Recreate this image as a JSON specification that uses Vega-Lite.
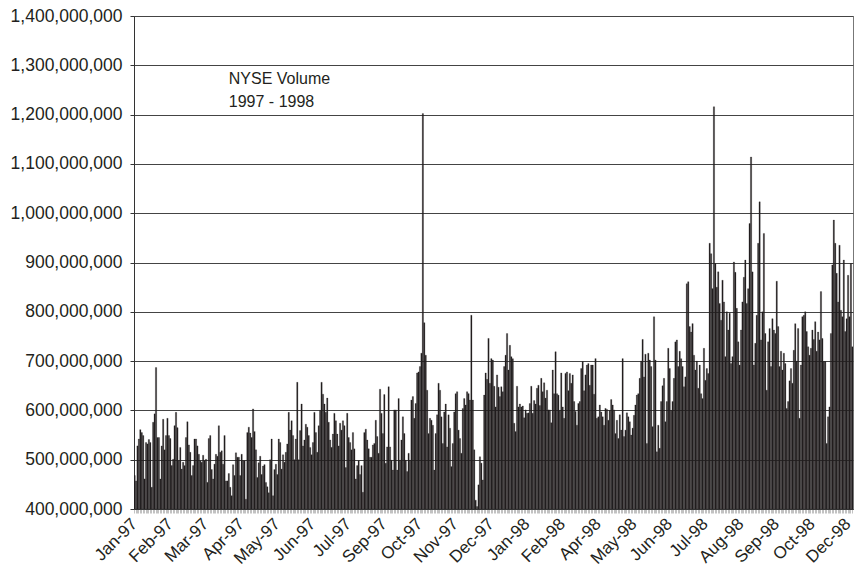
{
  "$schema": "https://vega.github.io/schema/vega-lite/v6.json",
  "autosize": "none",
  "width": 719,
  "height": 493,
  "padding": {"left": 134, "top": 16, "right": 6, "bottom": 62},
  "background": "white",
  "config": {
    "font": "Liberation Sans",
    "view": {"stroke": "#777", "strokeWidth": 1},
    "axis": {"labelFont": "Liberation Sans", "labelColor": "#231f20"}
  },
  "data": {"values": [
{"day":0,"volume":468},{"day":1,"volume":457},{"day":2,"volume":528},{"day":3,"volume":542},{"day":4,"volume":561},{"day":5,"volume":555},{"day":6,"volume":549},{"day":7,"volume":461},{"day":8,"volume":535},{"day":9,"volume":532},
{"day":10,"volume":541},{"day":11,"volume":535},{"day":12,"volume":444},{"day":13,"volume":576},{"day":14,"volume":593},{"day":15,"volume":687},{"day":16,"volume":545},{"day":17,"volume":545},{"day":18,"volume":461},{"day":19,"volume":528},
{"day":20,"volume":582},{"day":21,"volume":520},{"day":22,"volume":549},{"day":23,"volume":584},{"day":24,"volume":549},{"day":25,"volume":543},{"day":26,"volume":488},{"day":27,"volume":501},{"day":28,"volume":569},{"day":29,"volume":596},
{"day":30,"volume":565},{"day":31,"volume":498},{"day":32,"volume":525},{"day":33,"volume":481},{"day":34,"volume":495},{"day":35,"volume":488},{"day":36,"volume":545},{"day":37,"volume":577},{"day":38,"volume":530},{"day":39,"volume":515},
{"day":40,"volume":468},{"day":41,"volume":488},{"day":42,"volume":542},{"day":43,"volume":542},{"day":44,"volume":528},{"day":45,"volume":511},{"day":46,"volume":498},{"day":47,"volume":495},{"day":48,"volume":509},{"day":49,"volume":498},
{"day":50,"volume":501},{"day":51,"volume":454},{"day":52,"volume":543},{"day":53,"volume":549},{"day":54,"volume":480},{"day":55,"volume":461},{"day":56,"volume":491},{"day":57,"volume":511},{"day":58,"volume":507},{"day":59,"volume":569},
{"day":60,"volume":515},{"day":61,"volume":518},{"day":62,"volume":491},{"day":63,"volume":549},{"day":64,"volume":457},{"day":65,"volume":457},{"day":66,"volume":472},{"day":67,"volume":444},{"day":68,"volume":427},{"day":69,"volume":490},
{"day":70,"volume":468},{"day":71,"volume":514},{"day":72,"volume":505},{"day":73,"volume":505},{"day":74,"volume":468},{"day":75,"volume":511},{"day":76,"volume":498},{"day":77,"volume":498},{"day":78,"volume":420},{"day":79,"volume":555},
{"day":80,"volume":566},{"day":81,"volume":554},{"day":82,"volume":545},{"day":83,"volume":603},
{"day":84,"volume":557},{"day":85,"volume":520},{"day":86,"volume":464},{"day":87,"volume":494},{"day":88,"volume":507},{"day":89,"volume":470},{"day":90,"volume":487},{"day":91,"volume":490},{"day":92,"volume":454},{"day":93,"volume":445},
{"day":94,"volume":433},{"day":95,"volume":500},{"day":96,"volume":542},{"day":97,"volume":427},{"day":98,"volume":480},{"day":99,"volume":491},{"day":100,"volume":470},{"day":101,"volume":542},{"day":102,"volume":535},{"day":103,"volume":481},
{"day":104,"volume":510},{"day":105,"volume":495},{"day":106,"volume":515},{"day":107,"volume":532},{"day":108,"volume":596},{"day":109,"volume":560},{"day":110,"volume":579},{"day":111,"volume":549},{"day":112,"volume":500},{"day":113,"volume":542},
{"day":114,"volume":657},{"day":115,"volume":500},{"day":116,"volume":559},{"day":117,"volume":613},{"day":118,"volume":528},{"day":119,"volume":540},{"day":120,"volume":572},{"day":121,"volume":566},{"day":122,"volume":549},{"day":123,"volume":525},
{"day":124,"volume":510},{"day":125,"volume":535},{"day":126,"volume":596},{"day":127,"volume":555},{"day":128,"volume":515},{"day":129,"volume":569},{"day":130,"volume":600},{"day":131,"volume":657},{"day":132,"volume":633},{"day":133,"volume":613},
{"day":134,"volume":596},{"day":135,"volume":625},{"day":136,"volume":576},{"day":137,"volume":540},{"day":138,"volume":525},{"day":139,"volume":552},{"day":140,"volume":594},{"day":141,"volume":579},{"day":142,"volume":552},{"day":143,"volume":528},
{"day":144,"volume":574},{"day":145,"volume":560},{"day":146,"volume":579},{"day":147,"volume":569},{"day":148,"volume":484},{"day":149,"volume":594},{"day":150,"volume":545},{"day":151,"volume":535},{"day":152,"volume":520},{"day":153,"volume":555},
{"day":154,"volume":522},{"day":155,"volume":461},{"day":156,"volume":488},{"day":157,"volume":498},{"day":158,"volume":470},{"day":159,"volume":488},{"day":160,"volume":434},{"day":161,"volume":555},{"day":162,"volume":562},{"day":163,"volume":540},
{"day":164,"volume":522},{"day":165,"volume":505},{"day":166,"volume":505},{"day":167,"volume":530},
{"day":168,"volume":533},{"day":169,"volume":580},{"day":170,"volume":547},{"day":171,"volume":513},{"day":172,"volume":643},{"day":173,"volume":594},{"day":174,"volume":553},{"day":175,"volume":632},{"day":176,"volume":493},{"day":177,"volume":526},
{"day":178,"volume":648},{"day":179,"volume":526},{"day":180,"volume":499},{"day":181,"volume":479},{"day":182,"volume":601},{"day":183,"volume":601},{"day":184,"volume":479},{"day":185,"volume":624},{"day":186,"volume":499},{"day":187,"volume":540},
{"day":188,"volume":587},{"day":189,"volume":553},{"day":190,"volume":499},{"day":191,"volume":476},{"day":192,"volume":513},{"day":193,"volume":499},{"day":194,"volume":621},{"day":195,"volume":628},{"day":196,"volume":584},{"day":197,"volume":614},
{"day":198,"volume":676},{"day":199,"volume":678},{"day":200,"volume":689},{"day":201,"volume":716},{"day":202,"volume":1202},{"day":203,"volume":778},{"day":204,"volume":712},{"day":205,"volume":641},{"day":206,"volume":553},{"day":207,"volume":584},
{"day":208,"volume":580},{"day":209,"volume":570},{"day":210,"volume":479},{"day":211,"volume":553},{"day":212,"volume":591},{"day":213,"volume":655},{"day":214,"volume":641},{"day":215,"volume":587},{"day":216,"volume":533},{"day":217,"volume":597},
{"day":218,"volume":613},{"day":219,"volume":526},{"day":220,"volume":591},{"day":221,"volume":564},{"day":222,"volume":486},{"day":223,"volume":533},{"day":224,"volume":597},{"day":225,"volume":634},{"day":226,"volume":638},{"day":227,"volume":560},
{"day":228,"volume":543},{"day":229,"volume":513},{"day":230,"volume":604},{"day":231,"volume":624},{"day":232,"volume":611},{"day":233,"volume":638},{"day":234,"volume":634},{"day":235,"volume":621},{"day":236,"volume":793},{"day":237,"volume":621},
{"day":238,"volume":520},{"day":239,"volume":418},{"day":240,"volume":405},{"day":241,"volume":449},{"day":242,"volume":506},{"day":243,"volume":493},{"day":244,"volume":459},{"day":245,"volume":631},{"day":246,"volume":676},{"day":247,"volume":663},
{"day":248,"volume":746},{"day":249,"volume":655},{"day":250,"volume":705},{"day":251,"volume":702},
{"day":252,"volume":649},{"day":253,"volume":607},{"day":254,"volume":672},{"day":255,"volume":647},{"day":256,"volume":628},{"day":257,"volume":648},{"day":258,"volume":638},{"day":259,"volume":689},{"day":260,"volume":712},{"day":261,"volume":756},
{"day":262,"volume":682},{"day":263,"volume":732},{"day":264,"volume":709},{"day":265,"volume":705},{"day":266,"volume":574},{"day":267,"volume":557},{"day":268,"volume":649},{"day":269,"volume":607},{"day":270,"volume":613},{"day":271,"volume":607},
{"day":272,"volume":609},{"day":273,"volume":585},{"day":274,"volume":601},{"day":275,"volume":594},{"day":276,"volume":595},{"day":277,"volume":614},{"day":278,"volume":649},{"day":279,"volume":594},{"day":280,"volume":620},{"day":281,"volume":613},
{"day":282,"volume":645},{"day":283,"volume":651},{"day":284,"volume":610},{"day":285,"volume":665},{"day":286,"volume":638},{"day":287,"volume":656},{"day":288,"volume":625},{"day":289,"volume":641},{"day":290,"volume":601},{"day":291,"volume":601},
{"day":292,"volume":575},{"day":293,"volume":682},{"day":294,"volume":634},{"day":295,"volume":719},{"day":296,"volume":634},{"day":297,"volume":631},{"day":298,"volume":600},{"day":299,"volume":676},{"day":300,"volume":607},{"day":301,"volume":584},
{"day":302,"volume":675},{"day":303,"volume":678},{"day":304,"volume":640},{"day":305,"volume":675},{"day":306,"volume":655},{"day":307,"volume":672},{"day":308,"volume":618},{"day":309,"volume":598},{"day":310,"volume":570},{"day":311,"volume":614},
{"day":312,"volume":618},{"day":313,"volume":685},{"day":314,"volume":699},{"day":315,"volume":640},{"day":316,"volume":672},{"day":317,"volume":692},{"day":318,"volume":695},{"day":319,"volume":651},{"day":320,"volume":692},{"day":321,"volume":692},
{"day":322,"volume":633},{"day":323,"volume":705},{"day":324,"volume":584},{"day":325,"volume":587},{"day":326,"volume":611},{"day":327,"volume":597},{"day":328,"volume":587},{"day":329,"volume":570},{"day":330,"volume":604},{"day":331,"volume":602},
{"day":332,"volume":580},{"day":333,"volume":600},{"day":334,"volume":622},{"day":335,"volume":611},
{"day":336,"volume":601},{"day":337,"volume":553},{"day":338,"volume":580},{"day":339,"volume":543},{"day":340,"volume":591},{"day":341,"volume":560},{"day":342,"volume":705},{"day":343,"volume":547},{"day":344,"volume":560},{"day":345,"volume":595},
{"day":346,"volume":587},{"day":347,"volume":577},{"day":348,"volume":550},{"day":349,"volume":564},{"day":350,"volume":590},{"day":351,"volume":611},{"day":352,"volume":631},{"day":353,"volume":634},{"day":354,"volume":665},{"day":355,"volume":700},
{"day":356,"volume":744},{"day":357,"volume":668},{"day":358,"volume":714},{"day":359,"volume":533},{"day":360,"volume":716},{"day":361,"volume":702},{"day":362,"volume":689},{"day":363,"volume":567},{"day":364,"volume":790},{"day":365,"volume":702},
{"day":366,"volume":516},{"day":367,"volume":570},{"day":368,"volume":523},{"day":369,"volume":618},{"day":370,"volume":650},{"day":371,"volume":665},{"day":372,"volume":577},{"day":373,"volume":618},{"day":374,"volume":726},{"day":375,"volume":685},
{"day":376,"volume":600},{"day":377,"volume":618},{"day":378,"volume":665},{"day":379,"volume":739},{"day":380,"volume":743},{"day":381,"volume":689},{"day":382,"volume":720},{"day":383,"volume":705},{"day":384,"volume":689},{"day":385,"volume":648},
{"day":386,"volume":668},{"day":387,"volume":857},{"day":388,"volume":861},{"day":389,"volume":770},{"day":390,"volume":759},{"day":391,"volume":776},{"day":392,"volume":712},{"day":393,"volume":682},{"day":394,"volume":700},{"day":395,"volume":645},
{"day":396,"volume":692},{"day":397,"volume":634},{"day":398,"volume":624},{"day":399,"volume":726},{"day":400,"volume":661},{"day":401,"volume":685},{"day":402,"volume":675},{"day":403,"volume":939},{"day":404,"volume":918},{"day":405,"volume":847},
{"day":406,"volume":1216},{"day":407,"volume":898},{"day":408,"volume":850},{"day":409,"volume":881},{"day":410,"volume":817},{"day":411,"volume":783},{"day":412,"volume":864},{"day":413,"volume":820},{"day":414,"volume":709},{"day":415,"volume":800},
{"day":416,"volume":763},{"day":417,"volume":797},{"day":418,"volume":695},{"day":419,"volume":709},
{"day":420,"volume":901},{"day":421,"volume":880},{"day":422,"volume":807},{"day":423,"volume":739},{"day":424,"volume":692},{"day":425,"volume":763},{"day":426,"volume":820},{"day":427,"volume":870},{"day":428,"volume":905},{"day":429,"volume":817},
{"day":430,"volume":847},{"day":431,"volume":979},{"day":432,"volume":1114},{"day":433,"volume":881},{"day":434,"volume":692},{"day":435,"volume":736},{"day":436,"volume":793},{"day":437,"volume":939},{"day":438,"volume":1023},{"day":439,"volume":743},
{"day":440,"volume":800},{"day":441,"volume":959},{"day":442,"volume":756},{"day":443,"volume":641},{"day":444,"volume":739},{"day":445,"volume":766},{"day":446,"volume":689},{"day":447,"volume":786},{"day":448,"volume":763},{"day":449,"volume":756},
{"day":450,"volume":862},{"day":451,"volume":770},{"day":452,"volume":689},{"day":453,"volume":720},{"day":454,"volume":682},{"day":455,"volume":716},{"day":456,"volume":695},{"day":457,"volume":604},{"day":458,"volume":618},{"day":459,"volume":660},
{"day":460,"volume":685},{"day":461,"volume":655},{"day":462,"volume":722},{"day":463,"volume":776},{"day":464,"volume":700},{"day":465,"volume":766},{"day":466,"volume":584},{"day":467,"volume":692},{"day":468,"volume":790},{"day":469,"volume":793},
{"day":470,"volume":800},{"day":471,"volume":760},{"day":472,"volume":729},{"day":473,"volume":712},{"day":474,"volume":726},{"day":475,"volume":763},{"day":476,"volume":744},{"day":477,"volume":780},{"day":478,"volume":720},{"day":479,"volume":759},
{"day":480,"volume":743},{"day":481,"volume":841},{"day":482,"volume":746},{"day":483,"volume":699},{"day":484,"volume":699},{"day":485,"volume":533},{"day":486,"volume":587},{"day":487,"volume":607},{"day":488,"volume":756},{"day":489,"volume":895},
{"day":490,"volume":986},{"day":491,"volume":939},{"day":492,"volume":878},{"day":493,"volume":820},{"day":494,"volume":935},{"day":495,"volume":803},{"day":496,"volume":790},{"day":497,"volume":905},{"day":498,"volume":760},{"day":499,"volume":786},
{"day":500,"volume":874},{"day":501,"volume":790},{"day":502,"volume":898},{"day":503,"volume":729}
  ]},
  "layer": [
    {
      "mark": {"type": "bar", "color": "#231f20", "stroke": "#231f20", "strokeWidth": 0.25, "clip": true},
      "encoding": {
        "x": {
          "field": "day",
          "type": "ordinal",
          "scale": {"paddingInner": 0.1, "paddingOuter": 0},
          "axis": {
            "title": null,
            "labelAngle": -45,
            "labelAlign": "right",
            "labelBaseline": "middle",
            "labelFontSize": 17,
            "labelOverlap": false,
            "labelBound": false,
            "labelPadding": 8,
            "labelDx": 6,
            "labelExpr": "datum.value % 25 == 0 ? ['Jan-97','Feb-97','Mar-97','Apr-97','May-97','Jun-97','Jul-97','Sep-97','Oct-97','Nov-97','Dec-97','Jan-98','Feb-98','Apr-98','May-98','Jun-98','Jul-98','Aug-98','Sep-98','Oct-98','Dec-98'][datum.value / 25] : ''",
            "domainColor": "#333",
            "tickColor": "#999",
            "tickSize": 4,
            "tickWidth": 0.6
          }
        },
        "y": {
          "field": "volume",
          "type": "quantitative",
          "scale": {"domain": [400, 1400], "zero": false, "nice": false},
          "axis": {
            "title": null,
            "values": [400, 500, 600, 700, 800, 900, 1000, 1100, 1200, 1300, 1400],
            "labelExpr": "format(datum.value * 1000000, ',')",
            "labelFontSize": 17.5,
            "labelPadding": 8,
            "tickSize": 4,
            "tickColor": "#333",
            "domainColor": "#333",
            "gridColor": "#444",
            "gridWidth": 1.2,
            "gridOpacity": 1
          }
        },
        "y2": {"datum": 400}
      }
    },
    {
      "data": {"values": [{}]},
      "mark": {
        "type": "text",
        "text": ["NYSE Volume", "1997 - 1998"],
        "align": "left",
        "baseline": "alphabetic",
        "fontSize": 16,
        "lineHeight": 23,
        "color": "#231f20",
        "font": "Liberation Sans"
      },
      "encoding": {
        "x": {"datum": 66, "type": "ordinal"},
        "y": {"datum": 1262, "type": "quantitative"}
      }
    }
  ]
}
